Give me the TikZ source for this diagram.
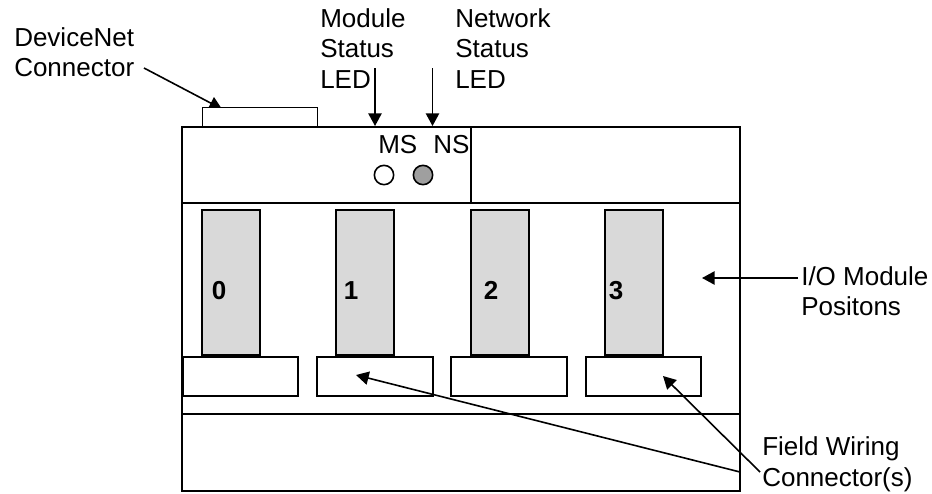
\documentclass[tikz,border=0pt]{standalone}
\usepackage{fontspec}
\setmainfont{Liberation Sans}
\usetikzlibrary{arrows.meta}
\tikzset{
  lbl/.style={inner sep=0pt, anchor=north west, align=left, font=\fontsize{19.5}{22.9}\selectfont},
  tag/.style={inner sep=0pt, anchor=base west, font=\fontsize{19.5}{22.9}\selectfont},
  num/.style={inner sep=0pt, anchor=base, font=\fontsize{19.5}{22.9}\selectfont\bfseries},
  plug/.style={draw, line width=1.5pt, fill=white, inner sep=0pt, minimum width=86.5pt, minimum height=29.5pt},
  slot/.style={draw, line width=1.1pt, fill=gray!30, inner sep=0pt, minimum width=43.5pt, minimum height=109pt},
  led/.style={draw, circle, line width=1.2pt, inner sep=0pt, minimum size=14.5pt},
  arr/.style={-{Triangle[length=9.5pt, width=10pt]}, line width=1.2pt}
}
\begin{document}
\begin{tikzpicture}[x=0.75pt, y=-0.75pt]
  \useasboundingbox (0,0) rectangle (932,493);
  \clip (0,0) rectangle (932,493);

  % housing
  \draw[line width=1.5pt] (182,127) rectangle (740,491);
  \draw[line width=1.5pt] (182,203) -- (740,203);
  \draw[line width=1.5pt] (470.5,127) -- (470.5,203);
  \draw[line width=1.5pt] (182,414) -- (740,414);

  \coordinate (nettail) at (144,68);
  \coordinate (nettip) at (222,109);
  \draw[arr] (nettail) -- (nettip);
  \node[plug, minimum height=14.5pt, line width=1.1pt] (netconn) at (260,117) {};

  % modules and their plugs
  \foreach \i/\sx/\px/\dx in {0/231/240.5/219, 1/365/375/351, 2/500/509/491, 3/634/643.5/616} {
    \node[slot] (slot\i) at (\sx,282.5) {};
    \node[plug] (plug\i) at (\px,376.5) {};
    \node[num] (num\i) at (\dx,299) {\i};
  }

  \node[led, fill=white] (msled) at (384,175) {};
  \node[led, fill=gray!75] (nsled) at (423,175) {};
  \node[tag] (mstag) at (378,153) {MS};
  \node[tag] (nstag) at (433,153) {NS};

  \node[lbl] (netlbl) at (14,27) {DeviceNet\\Connector};
  \node[lbl] (modlbl) at (320,8) {Module\\Status\\LED};
  \node[lbl] (nwklbl) at (455,8) {Network\\Status\\LED};
  \node[lbl] (iolbl) at (801,266) {I/O Module\\Positons};
  \node[lbl] (fldlbl) at (762,436.5) {Field Wiring\\Connector(s)};

  \coordinate (modtail) at (375,68);
  \coordinate (modtip) at (375,126);
  \coordinate (nwktail) at (432.5,68);
  \coordinate (nwktip) at (432.5,126);
  \coordinate (iotail) at (798,278);
  \coordinate (iotip) at (702,278);
  \coordinate (fldtailA) at (740,472);
  \coordinate (fldtipA) at (356,375);
  \coordinate (fldtailB) at (760,472);
  \coordinate (fldtipB) at (663,376);

  \draw[arr] (modtail) -- (modtip);
  \draw[arr] (nwktail) -- (nwktip);
  \draw[arr] (iotail) -- (iotip);
  \draw[arr] (fldtailA) -- (fldtipA);
  \draw[arr] (fldtailB) -- (fldtipB);
\end{tikzpicture}
\end{document}
